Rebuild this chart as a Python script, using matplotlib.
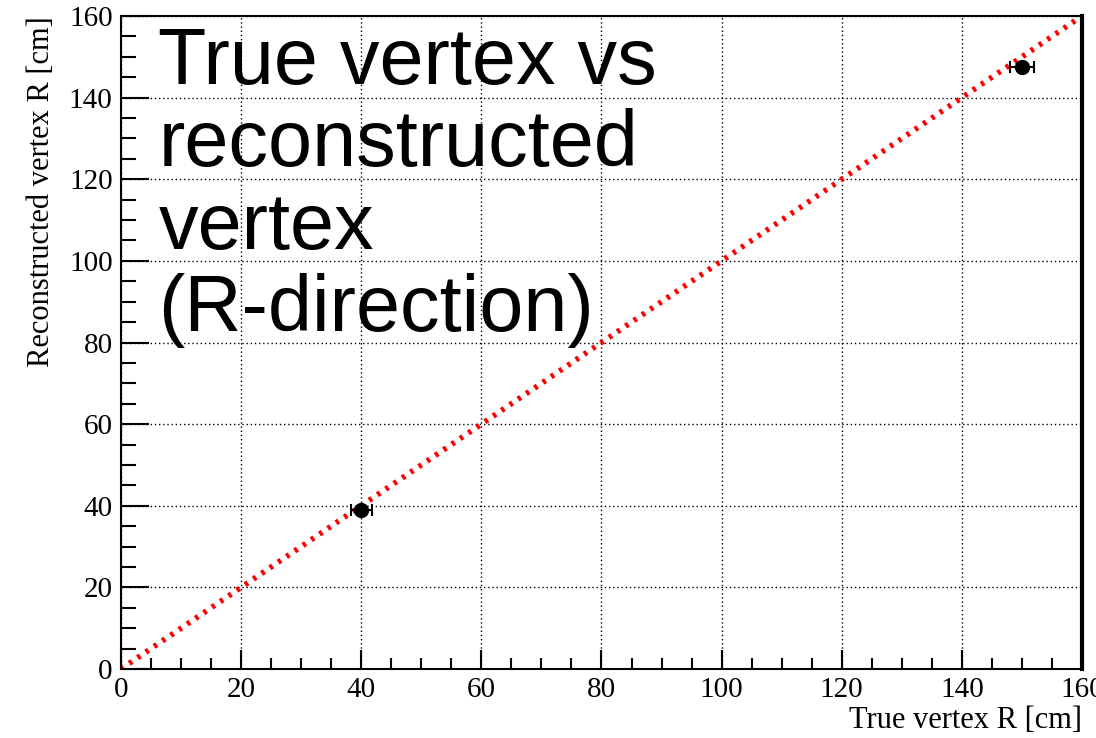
import numpy as np
import matplotlib.pyplot as plt
from matplotlib.ticker import MultipleLocator

# measured vertex positions (R direction), cm
true_r = np.array([40, 150])
reco_r = np.array([39, 147.6])
true_err = np.array([1.75, 2.0])
reco_err = np.array([0.5, 0.5])

diag = np.array([0, 160])

fig = plt.figure(figsize=(10.96, 7.38), dpi=100)
ax = fig.add_axes([0.1104, 0.0935, 0.8768, 0.8848])

ax.plot(diag, diag, color='red', linestyle=(0, (0.6, 1.2)), linewidth=4, zorder=2)
ax.errorbar(true_r, reco_r, xerr=true_err, yerr=reco_err, fmt='o', color='black',
            markersize=10, capsize=4, elinewidth=1.5, capthick=1.5, zorder=3)

ax.set_xlim(0, 160)
ax.set_ylim(0, 160)
ax.xaxis.set_major_locator(MultipleLocator(20))
ax.xaxis.set_minor_locator(MultipleLocator(5))
ax.yaxis.set_major_locator(MultipleLocator(20))
ax.yaxis.set_minor_locator(MultipleLocator(5))
ax.tick_params(which='both', direction='in', width=1.5, top=False, right=False)
ax.tick_params(axis='x', which='major', length=14)
ax.tick_params(axis='x', which='minor', length=8)
ax.tick_params(axis='y', which='major', length=20)
ax.tick_params(axis='y', which='minor', length=11)
ax.tick_params(labelsize=21, pad=6)
for lab in ax.get_xticklabels() + ax.get_yticklabels():
    lab.set_family('Liberation Serif')
ax.grid(True, which='major', color='black', linestyle=(0, (1, 2)), linewidth=1.0)
for s in ax.spines.values():
    s.set_linewidth(1.5)
ax.spines['right'].set_linewidth(3)

ax.set_xlabel('True vertex R [cm]', family='Liberation Serif', fontsize=22)
ax.xaxis.set_label_coords(1.0, -0.057)
ax.xaxis.label.set_horizontalalignment('right')
ax.set_ylabel('Reconstructed vertex R [cm]', family='Liberation Serif', fontsize=22)
ax.yaxis.set_label_coords(-0.068, 1.0)
ax.yaxis.label.set_horizontalalignment('right')

ax.text(0.039, 0.985, 'True vertex vs\nreconstructed\nvertex\n(R-direction)',
        transform=ax.transAxes, ha='left', va='top', fontsize=57,
        family='Liberation Sans', linespacing=1.13)

fig.savefig('out.png', dpi=100)
